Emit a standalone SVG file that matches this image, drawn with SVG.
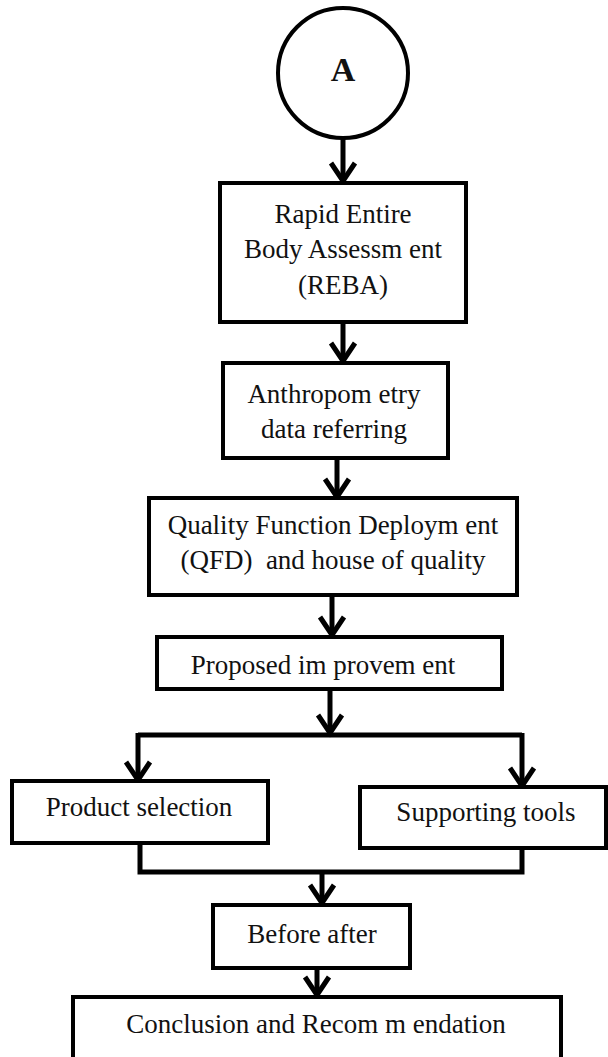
<svg xmlns="http://www.w3.org/2000/svg" width="608" height="1057" viewBox="0 0 608 1057">
<style>
.box{fill:#fff;stroke:#000;stroke-width:4}
.t{font-family:"Liberation Serif","Times New Roman",serif;font-size:27px;fill:#111;text-anchor:middle;white-space:pre}
.c{fill:none;stroke:#000;stroke-width:5}
</style>
<defs>
<marker id="chev" markerUnits="userSpaceOnUse" markerWidth="34" markerHeight="30" viewBox="-17 -26 34 30" refX="0" refY="0" orient="0">
<path d="M-12,-20 L0,-2 L12,-20" fill="none" stroke="#000" stroke-width="5"/>
</marker>
</defs>
<g id="connectors">
<path class="c" d="M343,138 V183" marker-end="url(#chev)"/>
<path class="c" d="M343,322 V363" marker-end="url(#chev)"/>
<path class="c" d="M337,458 V499" marker-end="url(#chev)"/>
<path class="c" d="M332,595 V637" marker-end="url(#chev)"/>
<path class="c" d="M330,689 V735" marker-end="url(#chev)"/>
<path class="c" d="M138,735 H522"/>
<path class="c" d="M138,733 V782" marker-end="url(#chev)"/>
<path class="c" d="M522,733 V788" marker-end="url(#chev)"/>
<path class="c" d="M140,843 V872 H522 V848"/>
<path class="c" d="M322,872 V905" marker-end="url(#chev)"/>
<path class="c" d="M317,968 V997" marker-end="url(#chev)"/>
</g>
<g id="nodeA">
<circle cx="343" cy="73" r="65" fill="#fff" stroke="#000" stroke-width="4"/>
<text x="343" y="81" class="t" style="font-weight:bold;font-size:34px">A</text>
</g>
<g id="reba">
<rect class="box" x="220" y="183" width="246" height="139"/>
<text class="t" x="343" y="223">Rapid Entire</text>
<text class="t" x="343" y="258">Body Assessm ent</text>
<text class="t" x="343" y="294">(REBA)</text>
</g>
<g id="anthro">
<rect class="box" x="223" y="363" width="225" height="95"/>
<text class="t" x="334" y="403">Anthropom etry</text>
<text class="t" x="334" y="438">data referring</text>
</g>
<g id="qfd">
<rect class="box" x="149" y="498" width="368" height="97"/>
<text class="t" x="333" y="534">Quality Function Deploym ent</text>
<text class="t" x="333" y="569" xml:space="preserve">(QFD)  and house of quality</text>
</g>
<g id="proposed">
<rect class="box" x="157" y="637" width="345" height="52"/>
<text class="t" x="323" y="674">Proposed im provem ent</text>
</g>
<g id="product">
<rect class="box" x="12" y="781" width="256" height="62"/>
<text class="t" x="139" y="816">Product selection</text>
</g>
<g id="supporting">
<rect class="box" x="360" y="787" width="246" height="61"/>
<text class="t" x="486" y="821">Supporting tools</text>
</g>
<g id="beforeafter">
<rect class="box" x="213" y="905" width="197" height="63"/>
<text class="t" x="312" y="943">Before after</text>
</g>
<g id="conclusion">
<rect class="box" x="73" y="997" width="488" height="70"/>
<text class="t" x="316" y="1033">Conclusion and Recom m endation</text>
</g>
</svg>
